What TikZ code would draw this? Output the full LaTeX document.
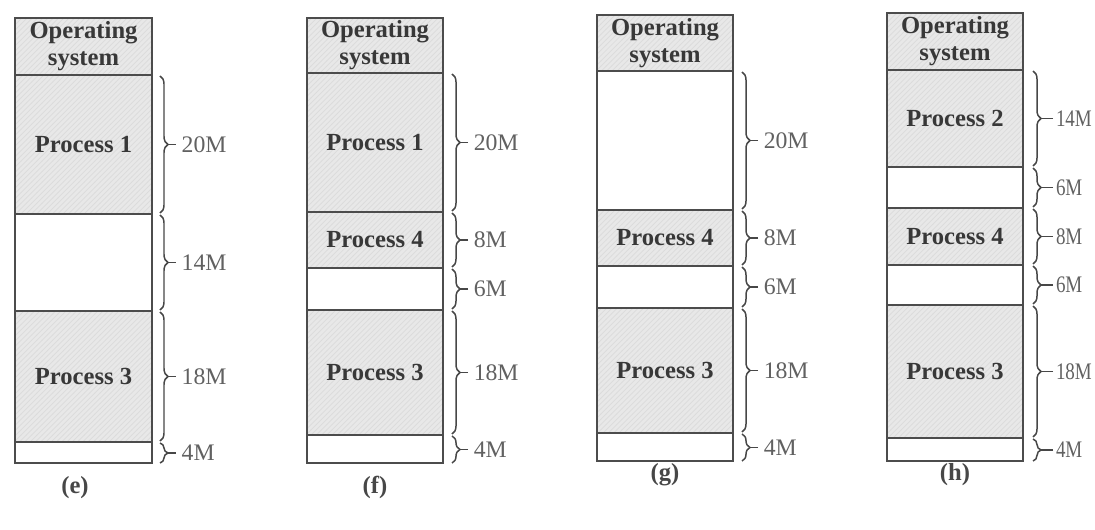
\documentclass[tikz,border=0pt]{standalone}
\usepackage{fontspec}
\setmainfont{Liberation Serif}
\usetikzlibrary{decorations.pathreplacing,patterns,positioning}
\tikzset{
  mem/.style={draw=black!70, line width=0.9pt},
  used/.style={mem, preaction={fill=black!9}, pattern=north east lines, pattern color=black!14},
  free/.style={mem, fill=white},
  ptxt/.style={font=\fontsize{14}{15.5}\selectfont\bfseries, text=black!78, align=center},
  brc/.style={draw=black!72, line width=0.85pt, decorate, decoration={brace, amplitude=0.16cm}},
  sz/.style={midway, anchor=west, xshift=0.32cm, inner sep=0.1cm, font=\fontsize{13.5}{15}\selectfont, text=black!62},
  szh/.style={sz, xshift=0.08cm, inner sep=0.06cm, xscale=0.8},
  tick/.style={draw=black!72, line width=0.85pt},
  captxt/.style={font=\fontsize{14}{15}\selectfont\bfseries, text=black!72}
}
\begin{document}
\begin{tikzpicture}[x=0.02cm, y=-0.02cm]
            \useasboundingbox (0,0) rectangle (1095,530);

            % (e)
            \draw[used] (15,18) rectangle (152,75) node[midway, ptxt] (eos) {Operating\\system};
            \draw[used] (15,75) rectangle (152,214) node[midway, ptxt] (ep1) {Process 1};
            \draw[free] (15,214) rectangle (152,311);
            \draw[used] (15,311) rectangle (152,442) node[midway, ptxt] (ep3) {Process 3};
            \draw[free] (15,442) rectangle (152,463);

            \draw[brc] (160,76) -- (160,213) node[sz] (e20) {20M};
            \draw[brc] (160,215) -- (160,310) node[sz] (e14) {14M};
            \draw[brc] (160,312) -- (160,441) node[sz] (e18) {18M};
            \draw[brc] (160,443) -- (160,463) node[sz] (e4) {4M};
            \draw[tick] (e20.west) -- ++(-8,0);
            \draw[tick] (e14.west) -- ++(-8,0);
            \draw[tick] (e18.west) -- ++(-8,0);
            \draw[tick] (e4.west) -- ++(-8,0);
            \node[captxt] (ecap) at (75,488) {(e)};

            % (f)
            \draw[used] (307,18) rectangle (443,73) node[midway, ptxt] (fos) {Operating\\system};
            \draw[used] (307,73) rectangle (443,212) node[midway, ptxt] (fp1) {Process 1};
            \draw[used] (307,212) rectangle (443,268) node[midway, ptxt] (fp4) {Process 4};
            \draw[free] (307,268) rectangle (443,310);
            \draw[used] (307,310) rectangle (443,435) node[midway, ptxt] (fp3) {Process 3};
            \draw[free] (307,435) rectangle (443,463);

            \draw[brc] (452,74) -- (452,211) node[sz] (f20) {20M};
            \draw[brc] (452,213) -- (452,267) node[sz] (f8) {8M};
            \draw[brc] (452,269) -- (452,309) node[sz] (f6) {6M};
            \draw[brc] (452,311) -- (452,434) node[sz] (f18) {18M};
            \draw[brc] (452,436) -- (452,463) node[sz] (f4) {4M};
            \draw[tick] (f20.west) -- ++(-8,0);
            \draw[tick] (f8.west) -- ++(-8,0);
            \draw[tick] (f6.west) -- ++(-8,0);
            \draw[tick] (f18.west) -- ++(-8,0);
            \draw[tick] (f4.west) -- ++(-8,0);
            \node[captxt] (fcap) at (375,487) {(f)};

            % (g)
            \draw[used] (597,15) rectangle (733,71) node[midway, ptxt] (gos) {Operating\\system};
            \draw[free] (597,71) rectangle (733,210);
            \draw[used] (597,210) rectangle (733,266) node[midway, ptxt] (gp4) {Process 4};
            \draw[free] (597,266) rectangle (733,308);
            \draw[used] (597,308) rectangle (733,433) node[midway, ptxt] (gp3) {Process 3};
            \draw[free] (597,433) rectangle (733,461);

            \draw[brc] (742,72) -- (742,209) node[sz] (g20) {20M};
            \draw[brc] (742,211) -- (742,265) node[sz] (g8) {8M};
            \draw[brc] (742,267) -- (742,307) node[sz] (g6) {6M};
            \draw[brc] (742,309) -- (742,432) node[sz] (g18) {18M};
            \draw[brc] (742,434) -- (742,461) node[sz] (g4) {4M};
            \draw[tick] (g20.west) -- ++(-8,0);
            \draw[tick] (g8.west) -- ++(-8,0);
            \draw[tick] (g6.west) -- ++(-8,0);
            \draw[tick] (g18.west) -- ++(-8,0);
            \draw[tick] (g4.west) -- ++(-8,0);
            \node[captxt] (gcap) at (665,475) {(g)};

            % (h)
            \draw[used] (887,13) rectangle (1023,70) node[midway, ptxt] (hos) {Operating\\system};
            \draw[used] (887,70) rectangle (1023,167) node[midway, ptxt] (hp2) {Process 2};
            \draw[free] (887,167) rectangle (1023,208);
            \draw[used] (887,208) rectangle (1023,265) node[midway, ptxt] (hp4) {Process 4};
            \draw[free] (887,265) rectangle (1023,305);
            \draw[used] (887,305) rectangle (1023,438) node[midway, ptxt] (hp3) {Process 3};
            \draw[free] (887,438) rectangle (1023,461);

            \draw[brc] (1033,71) -- (1033,166) node[szh] (h14) {14M};
            \draw[brc] (1033,168) -- (1033,207) node[szh] (h6a) {6M};
            \draw[brc] (1033,209) -- (1033,264) node[szh] (h8) {8M};
            \draw[brc] (1033,266) -- (1033,304) node[szh] (h6b) {6M};
            \draw[brc] (1033,306) -- (1033,437) node[szh] (h18) {18M};
            \draw[brc] (1033,439) -- (1033,461) node[szh] (h4) {4M};
            \draw[tick] (h14.west) -- ++(-13,0);
            \draw[tick] (h6a.west) -- ++(-13,0);
            \draw[tick] (h8.west) -- ++(-13,0);
            \draw[tick] (h6b.west) -- ++(-13,0);
            \draw[tick] (h18.west) -- ++(-13,0);
            \draw[tick] (h4.west) -- ++(-13,0);
            \node[captxt] (hcap) at (955,475) {(h)};

        \end{tikzpicture}
\end{document}
